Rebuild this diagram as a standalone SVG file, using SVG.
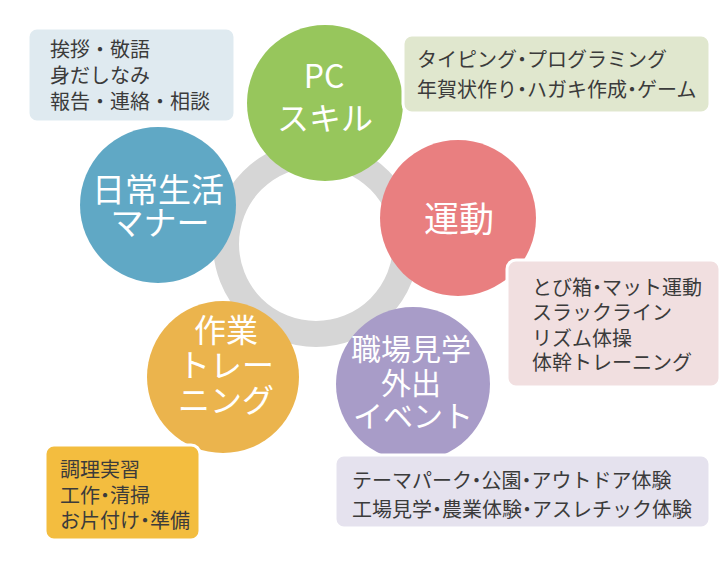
<svg xmlns="http://www.w3.org/2000/svg" width="726" height="576" viewBox="0 0 726 576">
<style>
.lbl{font-family:"Noto Sans CJK JP","Noto Sans",sans-serif;fill:#ffffff;text-anchor:middle}
.txt{font-family:"Noto Sans CJK JP","Noto Sans",sans-serif;fill:#3b3b3b;font-size:20px}
.box{stroke:#ffffff;stroke-width:3}
</style>
<rect width="726" height="576" fill="#ffffff"/>
<g id="hub">
<circle cx="316" cy="244" r="90" fill="none" stroke="#d6d6d6" stroke-width="26"/>
</g>
<g id="connectors"></g>
<g id="node-pc">
<circle cx="325" cy="103" r="78" fill="#97c65c"/>
<text class="lbl" x="324" y="88" font-size="32">PC</text>
<text class="lbl" x="325" y="130" font-size="32">スキル</text>
</g>
<g id="node-undou">
<circle cx="458" cy="218" r="78" fill="#e97f80"/>
<text class="lbl" x="459" y="232" font-size="35">運動</text>
</g>
<g id="node-manner">
<circle cx="158" cy="205" r="78" fill="#60a8c5"/>
<text class="lbl" x="158" y="202" font-size="33">日常生活</text>
<text class="lbl" x="160" y="235" font-size="33">マナー</text>
</g>
<g id="node-sagyou">
<circle cx="223" cy="377" r="76" fill="#ebb44d"/>
<text class="lbl" x="226" y="342" font-size="32">作業</text>
<text class="lbl" x="226" y="377" font-size="32">トレー</text>
<text class="lbl" x="226" y="412" font-size="32">ニング</text>
</g>
<g id="node-shokuba">
<circle cx="413" cy="384" r="77" fill="#a89cc8"/>
<text class="lbl" x="411" y="360" font-size="30">職場見学</text>
<text class="lbl" x="411" y="394" font-size="30">外出</text>
<text class="lbl" x="413" y="427" font-size="30">イベント</text>
</g>
<g id="box-manner">
<rect class="box" x="28" y="28" width="207" height="94" rx="9" fill="#dfeaf0"/>
<text class="txt" x="50" y="57">挨拶・敬語</text>
<text class="txt" x="50" y="83">身だしなみ</text>
<text class="txt" x="50" y="109">報告・連絡・相談</text>
</g>
<g id="box-pc">
<rect class="box" x="403" y="35" width="307" height="78" rx="9" fill="#e0e7ce"/>
<text class="txt" x="417" y="67">タイピング<tspan dx="-5">・</tspan><tspan dx="-5">プログラミング</tspan></text>
<text class="txt" x="417" y="97">年賀状作り<tspan dx="-5">・</tspan><tspan dx="-5">ハガキ作成</tspan><tspan dx="-5">・</tspan><tspan dx="-5">ゲーム</tspan></text>
</g>
<g id="box-undou">
<rect class="box" x="507" y="260" width="213" height="127" rx="9" fill="#f1dfe0"/>
<text class="txt" x="532" y="295">とび箱<tspan dx="-5">・</tspan><tspan dx="-5">マット運動</tspan></text>
<text class="txt" x="532" y="320">スラックライン</text>
<text class="txt" x="532" y="346">リズム体操</text>
<text class="txt" x="532" y="370">体幹トレーニング</text>
</g>
<g id="box-shokuba">
<rect class="box" x="335" y="455" width="375" height="73" rx="9" fill="#e5e2ee"/>
<text class="txt" x="352" y="488">テーマパーク<tspan dx="-5">・</tspan><tspan dx="-5">公園</tspan><tspan dx="-5">・</tspan><tspan dx="-5">アウトドア体験</tspan></text>
<text class="txt" x="352" y="517">工場見学<tspan dx="-5">・</tspan><tspan dx="-5">農業体験</tspan><tspan dx="-5">・</tspan><tspan dx="-5">アスレチック体験</tspan></text>
</g>
<g id="box-sagyou">
<rect class="box" x="45" y="445" width="155" height="95" rx="9" fill="#f3bd3f"/>
<text class="txt" x="60" y="477">調理実習</text>
<text class="txt" x="60" y="503">工作<tspan dx="-5">・</tspan><tspan dx="-5">清掃</tspan></text>
<text class="txt" x="60" y="528">お片付け<tspan dx="-5">・</tspan><tspan dx="-5">準備</tspan></text>
</g>
</svg>
